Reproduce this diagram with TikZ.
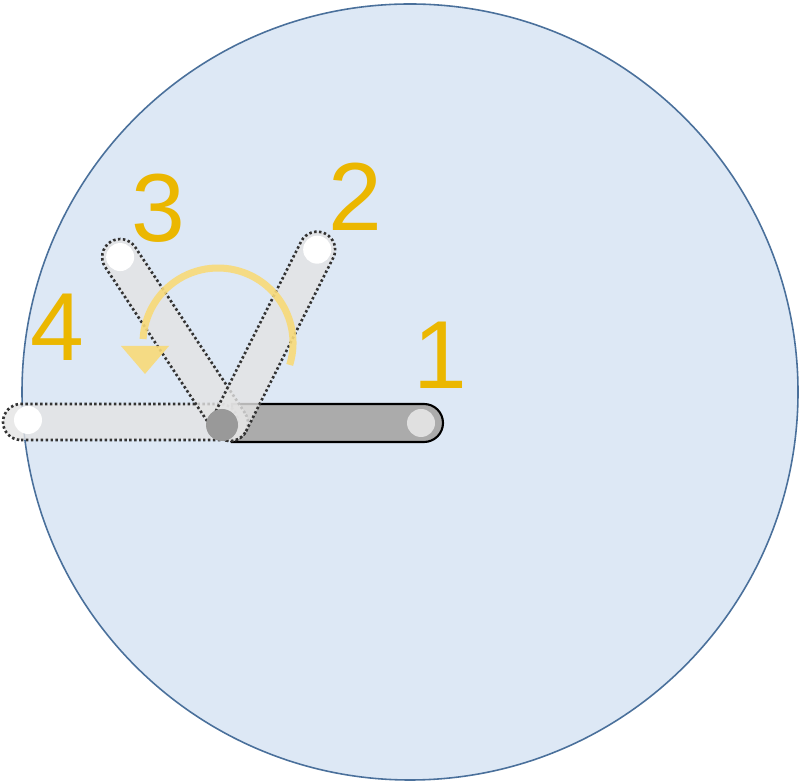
\documentclass[tikz,border=0pt]{standalone}
\usepackage{fontspec}
\setmainfont{Liberation Sans}
\begin{document}
\begin{tikzpicture}[x=0.02cm,y=0.02cm,
  num/.style={text=numcol,font=\fontsize{55}{60}\selectfont,inner sep=0pt},
  ghostbar/.style={fill=barlight,fill opacity=0.8,draw=black!80,line width=1.5pt,dash pattern=on 1.4pt off 1.4pt},
  knob/.style={circle,fill=white,draw=none,minimum size=28*0.02cm,inner sep=0pt}]
\definecolor{bg}{HTML}{DDE8F5}
\definecolor{rim}{HTML}{4A709B}
\definecolor{barlight}{HTML}{E4E4E4}
\definecolor{bardark}{HTML}{ABABAB}
\definecolor{numcol}{HTML}{EBB700}
\definecolor{arccol}{HTML}{F8DA78}
\useasboundingbox (0,0) rectangle (800,783);
% disc
\node[circle,minimum size=776*0.02cm,fill=bg,draw=rim,line width=0.9pt,inner sep=0pt] (disc) at (410,391) {};
% bar 1
\coordinate (P) at (230,360);
\draw[fill=bardark,line width=1.2pt] (232,341) -- (424,341) arc(-90:90:19) -- (232,379) -- cycle;
\node[knob,fill=black!12] (k1) at (421,360) {};
% bar 4
\draw[ghostbar] (21,343) -- (220,343) arc(-90:90:18) -- (21,379) arc(90:270:18) -- cycle;
\node[knob] (k4) at (28,363) {};
% bar 3
\begin{scope}[shift={(P)},rotate=123.5]
\draw[ghostbar] (0,-18) -- (199,-18) arc(-90:90:18) -- (0,18) arc(90:270:18) -- cycle;
\node[knob] (k3) at (199,0) {};
\end{scope}
% bar 2
\begin{scope}[shift={(P)},rotate=63.3]
\draw[ghostbar] (0,-18) -- (194,-18) arc(-90:90:18) -- (0,18) arc(90:270:18) -- cycle;
\node[knob] (k2) at (194,0) {};
\end{scope}
% pivot
\node[circle,fill=black!40,minimum size=32*0.02cm,inner sep=0pt] (pivot) at (222,358) {};
% rotation arrow
\draw[arccol,line width=4pt,opacity=0.9] (218,440) ++(-17:75) arc(-17:177:75);
\fill[arccol,opacity=0.9] (121,437) -- (169,437) -- (145,409) -- cycle;
% numbers
\node[num] (n1) at (440,428) {1};
\node[num] (n2) at (355,586) {2};
\node[num] (n3) at (158,575) {3};
\node[num] (n4) at (57,456) {4};
\end{tikzpicture}
\end{document}
